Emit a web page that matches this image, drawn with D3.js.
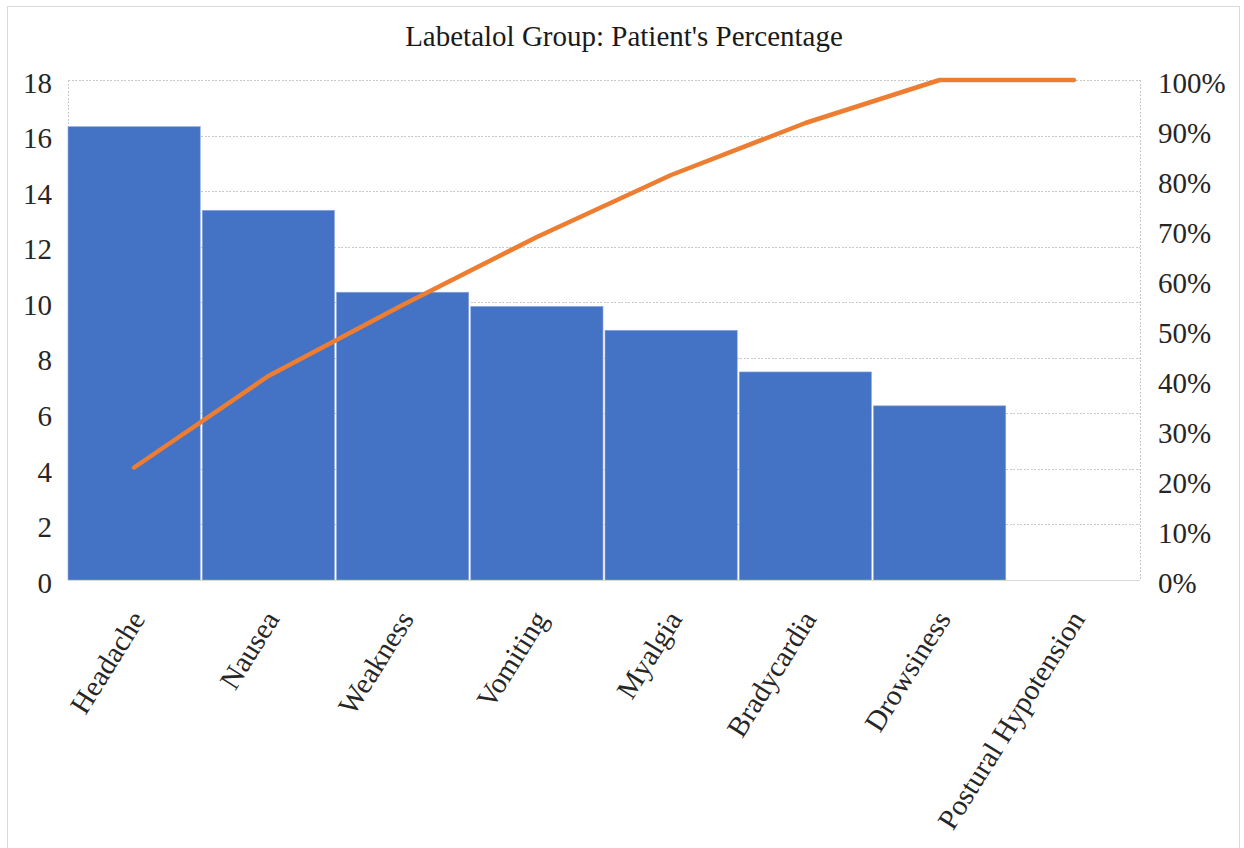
<!DOCTYPE html>
<html>
<head>
<meta charset="utf-8">
<script src="https://cdn.jsdelivr.net/npm/d3@7"></script>
<style>
  html, body { margin: 0; padding: 0; background: #fff; }
  svg { display: block; }
  text { font-family: "Liberation Serif", "Times New Roman", serif; }
</style>
</head>
<body>
<svg id="chart" width="1244" height="848"></svg>
<script>
const categories = ["Headache", "Nausea", "Weakness", "Vomiting", "Myalgia", "Bradycardia", "Drowsiness", "Postural Hypotension"];
const counts = [16.32, 13.31, 10.36, 9.85, 8.99, 7.49, 6.27, 0];
const cumulativePct = [22.5, 40.8, 55.0, 68.6, 81.0, 91.4, 100, 100];
const leftTicks = [0, 2, 4, 6, 8, 10, 12, 14, 16, 18];
const rightTicks = [0, 10, 20, 30, 40, 50, 60, 70, 80, 90, 100];
const titleText = "Labetalol Group: Patient's Percentage";

const svg = d3.select("#chart");
const plot = { left: 68, right: 1140, top: 80, bottom: 580 };
const fontSize = 29;
const serif = "Liberation Serif, Times New Roman, serif";

// outer chart border
svg.append("rect")
  .attr("x", 7.5).attr("y", 6.5)
  .attr("width", 1232).attr("height", 850)
  .attr("fill", "#fff").attr("stroke", "#d9d9d9").attr("stroke-width", 1);

const x = d3.scaleBand().domain(categories)
  .range([plot.left, plot.right]).paddingInner(0.015).paddingOuter(0);
const y = d3.scaleLinear().domain([0, 18]).range([plot.bottom, plot.top]);
const y2 = d3.scaleLinear().domain([0, 100]).range([plot.bottom, plot.top]);

// gridlines
const grid = svg.append("g")
  .attr("transform", `translate(${plot.left},0)`)
  .call(d3.axisLeft(y).tickValues(leftTicks).tickSize(-(plot.right - plot.left)).tickFormat(""));
grid.select(".domain").remove();
grid.selectAll("line").attr("stroke", "#c8c8c8").attr("stroke-dasharray", "2,1.5").attr("shape-rendering", "crispEdges");

// plot-area side borders (dotted)
[plot.left, plot.right].forEach(px => {
  svg.append("line").attr("x1", px).attr("x2", px).attr("y1", plot.top).attr("y2", plot.bottom)
    .attr("stroke", "#c8c8c8").attr("stroke-dasharray", "2,1.5").attr("shape-rendering", "crispEdges");
});

// bars
svg.append("g").selectAll("rect").data(categories).join("rect")
  .attr("x", d => x(d))
  .attr("width", x.bandwidth())
  .attr("y", (d, i) => y(counts[i]))
  .attr("height", (d, i) => y(0) - y(counts[i]))
  .attr("fill", "#4472C4")
  .attr("stroke", "#8faadc").attr("stroke-width", 0.6);

// bottom axis line
svg.append("line").attr("x1", plot.left).attr("x2", plot.right).attr("y1", plot.bottom).attr("y2", plot.bottom)
  .attr("stroke", "#d9d9d9").attr("shape-rendering", "crispEdges");

// cumulative line
const line = d3.line()
  .x((d, i) => x(categories[i]) + x.bandwidth() / 2)
  .y(d => y2(d));
svg.append("path").datum(cumulativePct)
  .attr("d", line)
  .attr("fill", "none")
  .attr("stroke", "#ED7D31")
  .attr("stroke-width", 4.5)
  .attr("stroke-linecap", "round")
  .attr("stroke-linejoin", "round");

// left axis
const la = svg.append("g")
  .attr("transform", `translate(${plot.left},0)`)
  .call(d3.axisLeft(y).tickValues(leftTicks).tickSize(0).tickPadding(16).tickFormat(d3.format("d")));
la.select(".domain").remove();
la.selectAll("text").attr("font-size", fontSize).attr("fill", "#262626")
  .attr("font-family", serif).attr("dy", "0.42em");

// right axis
const ra = svg.append("g")
  .attr("transform", `translate(${plot.right},0)`)
  .call(d3.axisRight(y2).tickValues(rightTicks).tickSize(0).tickPadding(18).tickFormat(d => d + "%"));
ra.select(".domain").remove();
ra.selectAll("text").attr("font-size", fontSize).attr("fill", "#262626")
  .attr("font-family", serif).attr("dy", "0.42em");

// category labels
svg.append("g").selectAll("text").data(categories).join("text")
  .attr("transform", d => `translate(${x(d) + x.bandwidth() / 2 + 12},619) rotate(-58)`)
  .attr("text-anchor", "end")
  .attr("font-size", fontSize)
  .attr("font-family", serif)
  .attr("fill", "#262626")
  .text(d => d);

// title
svg.append("text")
  .attr("x", 624).attr("y", 46)
  .attr("text-anchor", "middle")
  .attr("font-size", fontSize)
  .attr("font-family", serif)
  .attr("fill", "#1a1a1a")
  .text(titleText);
</script>
</body>
</html>
